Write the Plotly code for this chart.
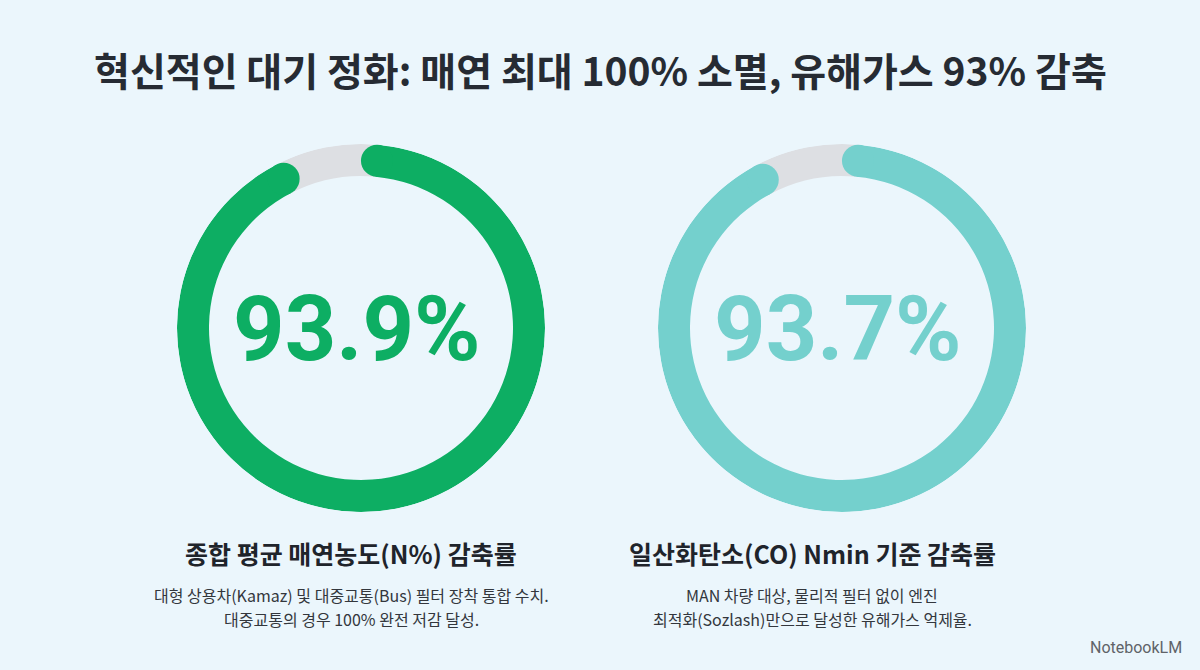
import plotly.graph_objects as go

# values shown in the two rings (percent reduction)
values = [93.9, 93.7]
value_labels = ["93.9%", "93.7%"]
ring_colors = ["#0DAE63", "#74D0CD"]
track_color = "#DDDFE3"

title_text = "혁신적인 대기 정화: 매연 최대 100% 소멸, 유해가스 93% 감축"
subtitles = ["종합 평균 매연농도(N%) 감축률", "일산화탄소(CO) Nmin 기준 감축률"]
descriptions = [
    ["대형 상용차(Kamaz) 및 대중교통(Bus) 필터 장착 통합 수치.", "대중교통의 경우 100% 완전 저감 달성."],
    ["MAN 차량 대상, 물리적 필터 없이 엔진", "최적화(Sozlash)만으로 달성한 유해가스 억제율."],
]

W, H = 1200, 670
BG = "#EBF6FC"
KR = "Noto Sans CJK KR"

# ring geometry in pixels
centers_x = [361, 842]
center_y = 328
R_OUT = 184
THICK = 32
R_IN = R_OUT - THICK
R_MID = R_IN + THICK / 2
cap_deg = (THICK / 2) / R_MID * 180 / 3.141592653589793

fig = go.Figure()
annotations = []

for i, v in enumerate(values):
    pid = "polar" if i == 0 else f"polar{i + 1}"
    end = 360 * v / 100
    a0 = cap_deg
    a1 = end - cap_deg

    # gray track under the gap
    fig.add_trace(go.Barpolar(
        theta=[(a1 + 360 + a0) / 2], r=[THICK], base=[R_IN], width=[360 + a0 - a1],
        marker=dict(color=track_color, line=dict(width=0)),
        subplot=pid, showlegend=False, hoverinfo="skip"
    ))
    # value arc
    fig.add_trace(go.Barpolar(
        theta=[(a0 + a1) / 2], r=[THICK], base=[R_IN], width=[a1 - a0],
        marker=dict(color=ring_colors[i], line=dict(width=0)),
        subplot=pid, showlegend=False, hoverinfo="skip"
    ))
    # rounded caps
    fig.add_trace(go.Scatterpolar(
        theta=[a0, a1], r=[R_MID, R_MID], mode="markers",
        marker=dict(size=THICK, color=ring_colors[i], line=dict(width=0)),
        subplot=pid, showlegend=False, hoverinfo="skip"
    ))

    cx = centers_x[i]
    fig.update_layout(**{pid: dict(
        domain=dict(x=[(cx - R_OUT) / W, (cx + R_OUT) / W],
                    y=[(H - center_y - R_OUT) / H, (H - center_y + R_OUT) / H]),
        bgcolor="rgba(0,0,0,0)",
        radialaxis=dict(range=[0, R_OUT], visible=False, showgrid=False),
        angularaxis=dict(visible=False, showgrid=False, rotation=90, direction="clockwise"),
    )})

    # big number in the middle
    annotations.append(dict(
        x=(cx - 4) / W, y=1 - 329 / H, xref="paper", yref="paper",
        text=f"<b>{value_labels[i]}</b>", showarrow=False,
        font=dict(family="Roboto", size=90, color=ring_colors[i]),
        xanchor="center", yanchor="middle"
    ))

text_x = [351, 812]
for i in range(2):
    annotations.append(dict(
        x=text_x[i] / W, y=1 - 553 / H, xref="paper", yref="paper",
        text=f"<b>{subtitles[i]}</b>", showarrow=False,
        font=dict(family=KR, size=25, color="#1F242B"),
        xanchor="center", yanchor="middle"
    ))
    for j, line in enumerate(descriptions[i]):
        annotations.append(dict(
            x=text_x[i] / W, y=1 - (595 + 24 * j) / H, xref="paper", yref="paper",
            text=line, showarrow=False,
            font=dict(family=KR, size=16, color="#33373D"),
            xanchor="center", yanchor="middle"
        ))

annotations.append(dict(
    x=600 / W, y=1 - 69 / H, xref="paper", yref="paper",
    text=f"<b>{title_text}</b>", showarrow=False,
    font=dict(family=KR, size=39, color="#262B33"),
    xanchor="center", yanchor="middle"
))
annotations.append(dict(
    x=1184 / W, y=1 - 647 / H, xref="paper", yref="paper",
    text="NotebookLM", showarrow=False,
    font=dict(family="Roboto", size=16, color="#5F6368"),
    xanchor="right", yanchor="middle"
))

fig.update_layout(
    width=W, height=H,
    margin=dict(l=0, r=0, t=0, b=0),
    paper_bgcolor=BG,
    plot_bgcolor=BG,
    annotations=annotations,
    showlegend=False,
)

fig.write_html("out.html", config={"displayModeBar": False},
               post_script="document.body.style.margin='0';")
